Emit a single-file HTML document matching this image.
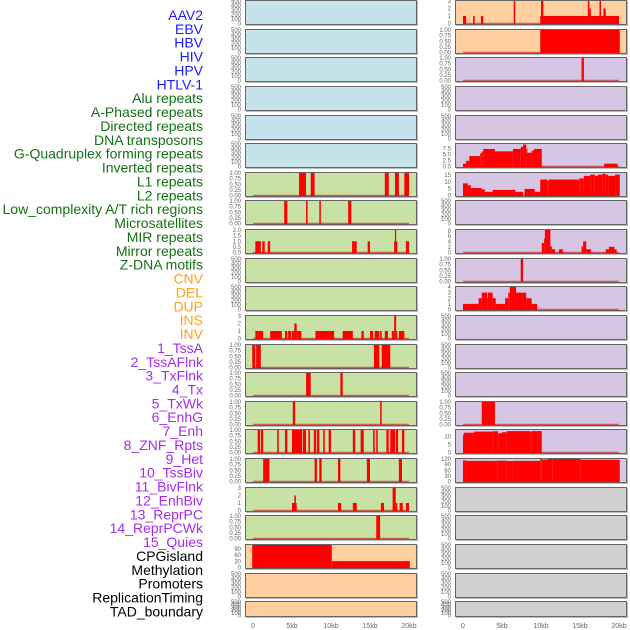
<!DOCTYPE html>
<html><head><meta charset="utf-8">
<style>
html,body{margin:0;padding:0;background:#fff;}
#chart{position:absolute;left:0;top:0;width:630px;height:630px;}
text{font-family:"Liberation Sans",sans-serif;}
</style></head>
<body>
<svg id="chart" width="630" height="630" viewBox="0 0 630 630" xmlns="http://www.w3.org/2000/svg"></svg>
<script>
// ---- data ----
const trackLabels = ["AAV2","EBV","HBV","HIV","HPV","HTLV-1","Alu repeats","A-Phased repeats","Directed repeats","DNA transposons","G-Quadruplex forming repeats","Inverted repeats","L1 repeats","L2 repeats","Low_complexity A/T rich regions","Microsatellites","MIR repeats","Mirror repeats","Z-DNA motifs","CNV","DEL","DUP","INS","INV","1_TssA","2_TssAFlnk","3_TxFlnk","4_Tx","5_TxWk","6_EnhG","7_Enh","8_ZNF_Rpts","9_Het","10_TssBiv","11_BivFlnk","12_EnhBiv","13_ReprPC","14_ReprPCWk","15_Quies","CPGisland","Methylation","Promoters","ReplicationTiming","TAD_boundary"];
const labelGroups = ["v","v","v","v","v","v","r","r","r","r","r","r","r","r","r","r","r","r","r","c","c","c","c","c","s","s","s","s","s","s","s","s","s","s","s","s","s","s","s","o","o","o","o","o"];
const xTicks = [0,5000,10000,15000,20000];
const xTickLabels = ["0","5kb","10kb","15kb","20kb"];
const col1Bg = ["b","b","b","b","b","b","g","g","g","g","g","g","g","g","g","g","g","g","g","o","o","o"];
const col2Bg = ["o","o","p","p","p","p","p","p","p","p","p","p","p","p","p","p","p","g2","g2","g2","g2","g2"];
const ticksEmpty = [0,100,200,300,400,500];
const ticksUnit = [0,0.25,0.5,0.75,1];
// segments [startKb, endKb, value]
const c1r6 = [[5.9,6.8,1],[7.4,7.9,1],[16.9,17.4,1],[18.2,18.7,1],[19.4,20.0,1]];
const c1r7 = [[4.0,4.4,1],[6.8,7.0,1],[8.5,8.7,1],[12.2,12.6,1]];
const c1r8 = [[0.3,1.0,1],[1.2,1.5,1],[1.9,2.2,1],[12.7,13.3,1],[14.7,15.0,1],[18.1,18.5,1],[18.2,18.35,2],[19.6,20.0,1]];
const c1r11 = [[0.3,1.3,1],[2.2,3.7,1],[4.1,4.4,1],[4.5,4.9,1],[5.0,5.3,1],[5.3,5.6,2],[5.6,6.2,1],[8.0,10.4,1],[11.5,12.8,1],[13.9,14.2,1],[15.0,15.4,1],[15.6,16.2,1],[16.3,16.5,1],[16.9,17.3,1],[17.8,18.1,1],[18.1,18.35,3],[18.35,18.4,1],[18.7,19.4,1]];
const c1r12 = [[-0.1,0.3,1],[0.4,1.0,1],[15.5,16.2,1],[16.5,17.6,1]];
const c1r13 = [[6.8,7.4,1],[11.2,11.5,1]];
const c1r14 = [[5.1,5.4,1],[16.3,16.5,1]];
const c1r15 = [[0.6,0.9,1],[1.0,1.3,1],[3.1,3.3,1],[4.1,4.4,1],[5.0,6.3,1],[6.4,6.8,1],[7.1,7.3,1],[7.8,8.1,1],[8.2,8.5,1],[9.0,9.2,1],[9.7,10.0,1],[12.8,13.1,1],[13.8,14.2,1],[15.4,15.6,1],[15.8,16.0,1],[17.1,17.4,1],[17.6,18.2,1],[18.3,18.6,1],[19.1,19.4,1]];
const c1r16 = [[1.3,2.1,1],[7.9,8.2,1],[8.5,8.8,1],[10.9,11.2,1],[14.6,15.0,1],[18.7,19.1,1]];
const c1r17 = [[5.0,5.6,1],[5.3,5.5,2],[10.9,11.3,1],[12.8,13.3,1],[16.4,16.8,1],[17.9,18.3,3],[18.3,18.5,1],[18.8,19.2,1],[19.6,20.0,1]];
const c1r18 = [[15.8,16.3,1]];
const c1r19 = [[-0.1,10.1,110],[10.1,20.1,31]];
const c2r0 = [[0,0.4,1],[1.3,1.5,1],[2.3,2.6,1],[6.5,6.7,3],[9.9,20.0,1],[10.0,10.3,3],[16.0,16.2,3],[16.2,16.4,2],[17.5,17.7,3],[18.0,18.3,2]];
const c2r1 = [[9.9,20.1,1]];
const c2r2 = [[15.2,15.5,1]];
const c2r5 = [[0,0.4,1.2],[0.4,0.8,2.4],[0.8,2.2,4.4],[2.2,2.4,5.6],[2.4,2.6,6.3],[2.6,4.1,7.4],[4.1,6.4,6.4],[6.4,7.4,7.4],[7.4,7.7,8.3],[7.7,8.1,9.3],[8.1,8.2,7.4],[8.2,8.8,5.8],[8.8,9.1,6.7],[9.1,10.1,7.4],[18.1,19.8,1.2]];
const c2r6 = [[0,0.6,8.9],[0.6,1.0,7.5],[1.0,2.4,5.5],[2.4,2.8,4.5],[2.8,3.8,2.7],[3.8,6.7,4.1],[6.7,7.7,2.7],[7.9,9.2,4.8],[9.2,9.9,2.7],[9.9,10.8,11.7],[10.8,11.0,11],[11.0,14.9,11.7],[14.9,15.5,12.5],[15.5,16.3,14.4],[16.3,16.9,15.3],[16.9,17.3,14.4],[17.3,17.9,15.3],[17.9,18.3,16],[18.3,18.6,15.3],[18.6,19.5,14.4],[19.5,20.1,15.3]];
const c2r8 = [[10.1,10.4,3.5],[10.4,10.5,5.2],[10.5,11.2,8.3],[11.2,11.4,2.2],[11.4,11.8,1.2],[12.3,12.8,1.2],[15.2,15.4,2.2],[15.4,15.8,4.1],[15.8,16.4,1.2],[18.3,18.7,1.2],[18.7,19.4,2.1],[19.4,19.7,1.2]];
const c2r9 = [[7.4,7.7,1]];
const c2r10 = [[0,2.0,1],[2.0,2.4,2],[2.4,3.1,3],[3.1,3.2,2],[3.2,3.8,3],[3.8,4.2,2],[4.2,5.4,1],[5.4,5.8,2],[5.8,6.0,3],[6.0,6.8,4],[6.8,8.1,3],[8.1,8.8,2],[8.8,9.5,1]];
const c2r14 = [[2.4,4.1,1]];
const c2r15 = [[0,0.1,11],[0.1,1.4,12.3],[1.4,3.8,13],[3.8,4.5,13.2],[4.5,5.0,12],[5.0,5.6,12.6],[5.6,8.6,13.3],[8.6,8.8,13],[8.8,10.1,13.3]];
const c2r16 = [[0,0.5,112],[0.5,4.4,110],[4.4,5.6,111],[5.6,6.4,109],[6.4,9.9,110],[9.9,10.1,120],[10.1,10.9,117],[10.9,11.5,120],[11.5,15.1,120],[15.1,20.1,116]];
// panel specs: [col,row,segments,ymax,ticks,tickLabels]
const panelData = [
 [0,6,c1r6,1,ticksUnit,["0.00","0.25","0.50","0.75","1.00"]],
 [0,7,c1r7,1,ticksUnit,["0.00","0.25","0.50","0.75","1.00"]],
 [0,8,c1r8,2,[0,0.5,1,1.5,2],["0.0","0.5","1.0","1.5","2.0"]],
 [0,11,c1r11,3,[0,1,2,3],["0","1","2","3"]],
 [0,12,c1r12,1,ticksUnit,["0.00","0.25","0.50","0.75","1.00"]],
 [0,13,c1r13,1,ticksUnit,["0.00","0.25","0.50","0.75","1.00"]],
 [0,14,c1r14,1,ticksUnit,["0.00","0.25","0.50","0.75","1.00"]],
 [0,15,c1r15,1,ticksUnit,["0.00","0.25","0.50","0.75","1.00"]],
 [0,16,c1r16,1,ticksUnit,["0.00","0.25","0.50","0.75","1.00"]],
 [0,17,c1r17,3,[0,1,2,3],["0","1","2","3"]],
 [0,18,c1r18,1,ticksUnit,["0.00","0.25","0.50","0.75","1.00"]],
 [0,19,c1r19,110,[0,30,60,90],["0","30","60","90"]],
 [1,0,c2r0,3,[0,1,2,3],["0","1","2","3"]],
 [1,1,c2r1,1,ticksUnit,["0.00","0.25","0.50","0.75","1.00"]],
 [1,2,c2r2,1,ticksUnit,["0.00","0.25","0.50","0.75","1.00"]],
 [1,5,c2r5,9.5,[0,2.5,5,7.5],["0.0","2.5","5.0","7.5"]],
 [1,6,c2r6,16.5,[0,5,10,15],["0","5","10","15"]],
 [1,8,c2r8,8.3,[0,2,4,6,8],["0","2","4","6","8"]],
 [1,9,c2r9,1,ticksUnit,["0.00","0.25","0.50","0.75","1.00"]],
 [1,10,c2r10,4,[0,1,2,3,4],["0","1","2","3","4"]],
 [1,14,c2r14,1,ticksUnit,["0.00","0.25","0.50","0.75","1.00"]],
 [1,15,c2r15,14,[0,5,10],["0","5","10"]],
 [1,16,c2r16,120,[0,30,60,90,120],["0","30","60","90","120"]]
];
// ---- drawing ----
const NS="http://www.w3.org/2000/svg";
const svg=document.getElementById('chart');
function mk(tag,attrs,parent){const e=document.createElementNS(NS,tag);for(const k in attrs)e.setAttribute(k,attrs[k]);(parent||svg).appendChild(e);return e;}
const bgColors={b:"#c6e3eb",g:"#c8e1a5",o:"#ffcf9f",p:"#d6c6e3",g2:"#d1d1d1"};
const labelColors={v:"#1a1aff",r:"#137313",c:"#ffa31a",s:"#a52bf0",o:"#000000"};
const colX=[245,455];
const panelW=172;
function rowTop(r){return Math.round(r*28.63);}
function rowH(r){return r===21?16:25;}
function xScale(col,bp){return colX[col]+8+bp/20000*156;}
function yScale(r,v,ymax){const t=rowTop(r),h=rowH(r);return t+h-1.5-(v/ymax)*(h-2.5);}

// labels
trackLabels.forEach((lab,i)=>{
 const t=mk('text',{x:203,y:20+i*13.87,'text-anchor':'end','font-size':'14',fill:labelColors[labelGroups[i]]});
 
 
 t.textContent=lab;
});

const lookup={};
panelData.forEach(p=>{lookup[p[0]+'_'+p[1]]=p;});

for(let col=0;col<2;col++){
 for(let r=0;r<22;r++){
  const t=rowTop(r),h=rowH(r);
  const g=mk('g',{});
  
  
  const bgk=(col===0?col1Bg:col2Bg)[r];
  mk('rect',{x:colX[col]+1,y:t+1,width:panelW,height:h,fill:'#bbb'},g);
  const bg=mk('rect',{x:colX[col]+0.5,y:t+0.5,width:panelW-1,height:h-1,fill:bgColors[bgk],stroke:'#666','stroke-width':1},g);
  
  
  const p=lookup[col+'_'+r];
  let ticks=ticksEmpty,tl=ticksEmpty.map(String),ymax=500;
  if(p){ticks=p[4];tl=p[5];ymax=p[3];
   mk('line',{x1:xScale(col,0),x2:xScale(col,20000),y1:t+h-1.5,y2:t+h-1.5,stroke:'rgba(200,0,0,0.55)','stroke-width':1.5},g);
   p[2].forEach(s=>{
    const x0=xScale(col,s[0]*1000),x1=xScale(col,s[1]*1000);
    const y0=yScale(r,s[2],ymax),yb=t+h-1;
    const b=mk('rect',{x:x0,y:y0,width:Math.max(1.2,x1-x0),height:yb-y0,fill:'#ff0000'},g);
    
    
   });
  }
  ticks.forEach((v,i)=>{
   const tx=mk('text',{x:colX[col]-4,y:yScale(r,v,ymax)+2,'text-anchor':'end','font-size':'6',fill:'#666'},g);
   
   
   tx.textContent=tl[i];
  });
 }
 xTicks.forEach((v,i)=>{
  const tx=mk('text',{x:xScale(col,v),y:628,'text-anchor':'middle','font-size':'7',fill:'#666'});
  
  
  tx.textContent=xTickLabels[i];
 });
}
</script>
</body></html>
